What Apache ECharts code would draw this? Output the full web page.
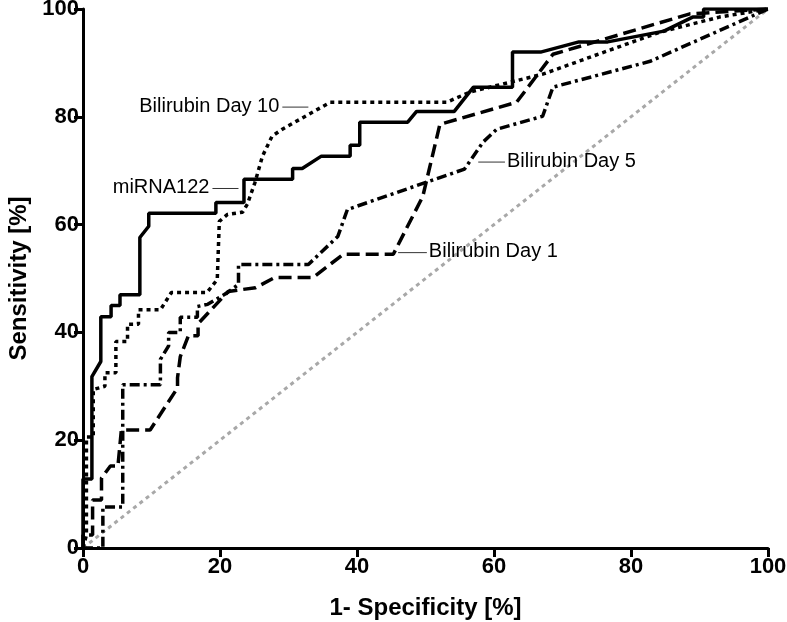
<!DOCTYPE html>
<html>
<head>
<meta charset="utf-8">
<script src="https://cdn.jsdelivr.net/npm/echarts@6/dist/echarts.min.js"></script>
<style>
  html, body { margin: 0; padding: 0; background: #fff; }
  #main { width: 787px; height: 622px; }
</style>
</head>
<body>
<div id="main"></div>
<script>
// ROC curves, points are [1- specificity %, sensitivity %]
var miRNA122 = [[0,0],[0,12.8],[1.3,12.8],[1.3,31.8],[2.6,34.6],[2.6,42.9],[4.1,42.9],[4.1,45],[5.4,45],[5.4,47],
  [8.3,47],[8.3,57.6],[9.6,59.7],[9.6,62.1],[19.4,62.1],[19.4,64.1],[23.5,64.1],[23.5,68.4],[30.6,68.4],[30.6,70.4],
  [32,70.4],[34.8,72.7],[39,72.7],[39,74.7],[40.4,74.7],[40.4,79],[47.4,79],[48.7,81],[54.2,81],[57,85.5],
  [62.7,85.5],[62.7,92],[66.8,92],[72.4,93.9],[76.6,93.9],[84.8,95.9],[89,98.5],[90.6,98.5],[90.6,100],[100,100]];

var bilirubinDay10 = [[0,0],[0.5,2.4],[0.5,20.6],[1.5,20.6],[1.5,29.4],[3.2,30],[3.2,32.5],[4.8,32.5],[4.8,38.3],
  [6.5,38.3],[6.5,41.5],[8.1,41.5],[8.1,44.2],[11.3,44.2],[12.9,47.4],[18.1,47.4],[19.6,49.8],[19.9,60.6],[21.1,61.9],
  [23.3,62.3],[24,63.8],[25.1,67.8],[26.2,72.7],[27.6,76.4],[29.1,77.7],[36.1,82.7],[53.1,82.7],[56.5,84.6],
  [67.1,87.9],[84.2,95.7],[92.9,98.5],[100,100]];

var bilirubinDay5 = [[0,0],[2.9,0],[2.9,7.6],[5.8,7.6],[5.8,30.3],[11.3,30.3],[11.3,35],[12.5,37.5],[12.5,40],
  [14.2,40],[14.2,42.8],[16.7,42.8],[16.7,44.8],[18.2,45.2],[21.1,47.4],[22.7,48.9],[22.7,52.6],[32.9,52.6],
  [37.2,57.8],[38.6,62.8],[55.7,70.3],[58.4,75.3],[60.4,77.7],[67.1,80.1],[68.6,85.5],[82.8,90.3],[100,100]];

var bilirubinDay1 = [[0,0],[0,2.4],[1.4,2.4],[1.4,8.9],[2.7,8.9],[2.7,13],[4,15.2],[5.1,15.2],[5.6,21.9],[9.8,21.9],
  [13.8,29.7],[13.8,31.6],[14.2,35.5],[15.4,39.4],[16.8,39.4],[16.8,41.6],[21.2,47.6],[25.2,48.3],[28,50.2],
  [33.6,50.2],[38,54.5],[45.3,54.5],[49.6,65.2],[52.1,78.6],[63.3,82.7],[68.6,91.6],[88.6,99.1],[100,100]];

var chanceLine = [[0,0],[100,100]];

var axisFont = '"Liberation Sans", Arial, Helvetica, sans-serif';
var labelFont = '"Liberation Sans", Arial, sans-serif';

var chart = echarts.init(document.getElementById('main'));

function curve(name, data, dash) {
  return {
    name: name,
    type: 'line',
    data: data,
    showSymbol: false,
    silent: true,
    z: 3,
    lineStyle: { color: '#000', width: 3.5, type: dash }
  };
}

var axisCommon = {
  type: 'value',
  min: 0,
  max: 100,
  interval: 20,
  nameLocation: 'middle',
  nameTextStyle: { fontFamily: axisFont, fontWeight: 'bold', fontSize: 24, color: '#000' },
  axisLine: { lineStyle: { color: '#000', width: 3 } },
  axisTick: { length: 9, lineStyle: { color: '#000', width: 3 } },
  axisLabel: { fontFamily: axisFont, fontWeight: 'bold', fontSize: 22, color: '#000' },
  splitLine: { show: false }
};

chart.setOption({
  animation: false,
  grid: { left: 83, right: 19, top: 9, bottom: 74, outerBoundsMode: 'none', containLabel: false },
  xAxis: Object.assign({}, axisCommon, {
    name: '1- Specificity [%]',
    nameGap: 48,
    axisLabel: Object.assign({}, axisCommon.axisLabel, { margin: 8 })
  }),
  yAxis: Object.assign({}, axisCommon, {
    name: 'Sensitivity [%]',
    nameGap: 52,
    axisLabel: Object.assign({}, axisCommon.axisLabel, { margin: 4 })
  }),
  series: [
    {
      name: 'reference',
      type: 'line',
      data: chanceLine,
      showSymbol: false,
      silent: true,
      z: 2,
      lineStyle: { color: '#a8a8a8', width: 3, type: [4, 4] }
    },
    curve('Bilirubin Day 1', bilirubinDay1, [13, 6]),
    curve('Bilirubin Day 5', bilirubinDay5, [10, 4, 3, 4]),
    curve('Bilirubin Day 10', bilirubinDay10, [4, 4]),
    curve('miRNA122', miRNA122, 'solid')
  ]
});

// curve labels with short leader lines (anchors in axis units)
var notes = [
  { text: 'Bilirubin Day 10', from: [29.1, 81.8], to: [32.9, 81.8], side: 'left' },
  { text: 'miRNA122', from: [18.9, 66.7], to: [22.7, 66.7], side: 'left' },
  { text: 'Bilirubin Day 5', from: [57.7, 71.6], to: [61.6, 71.6], side: 'right' },
  { text: 'Bilirubin Day 1', from: [46.0, 54.8], to: [50.2, 54.8], side: 'right' }
];

var graphics = [];
notes.forEach(function (n) {
  var a = chart.convertToPixel({ gridIndex: 0 }, n.from);
  var b = chart.convertToPixel({ gridIndex: 0 }, n.to);
  graphics.push({
    type: 'line',
    z: 5,
    shape: { x1: a[0], y1: a[1], x2: b[0], y2: b[1] },
    style: { stroke: '#333', lineWidth: 1 }
  });
  var left = n.side === 'left';
  graphics.push({
    type: 'text',
    z: 5,
    style: {
      text: n.text,
      x: left ? a[0] - 3 : b[0] + 2,
      y: a[1] - 1,
      font: '20px ' + labelFont,
      fill: '#000',
      align: left ? 'right' : 'left',
      verticalAlign: 'middle',
      textAlign: left ? 'right' : 'left',
      textVerticalAlign: 'middle'
    }
  });
});
chart.setOption({ graphic: graphics });
</script>
</body>
</html>
